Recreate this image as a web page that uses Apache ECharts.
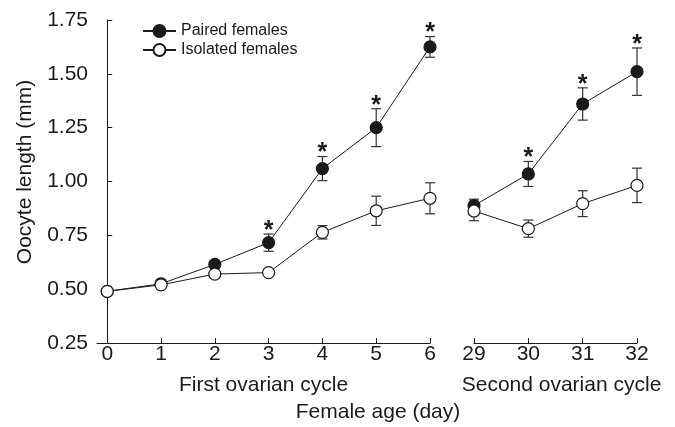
<!DOCTYPE html>
<html><head><meta charset="utf-8">
<script src="https://cdn.jsdelivr.net/npm/echarts@6/dist/echarts.min.js"></script>
<style>html,body{margin:0;padding:0;background:#fff}#c{width:675px;height:427px}</style>
</head><body><div id="c"></div>
<script>
// ---- data ----
const days1 = [0, 1, 2, 3, 4, 5, 6];
const paired1 = [0.49, 0.525, 0.615, 0.716, 1.06, 1.25, 1.625];
const pairedErr1 = [0, 0.01, 0.01, 0.04, 0.056, 0.088, 0.048];
const isolated1 = [0.49, 0.52, 0.57, 0.577, 0.764, 0.864, 0.922];
const isolatedErr1 = [0, 0, 0, 0, 0.031, 0.068, 0.072];
const days2 = [29, 30, 31, 32];
const paired2 = [0.888, 1.035, 1.36, 1.51];
const pairedErr2 = [0.03, 0.058, 0.075, 0.11];
const isolated2 = [0.863, 0.781, 0.897, 0.982];
const isolatedErr2 = [0.045, 0.04, 0.06, 0.08];
const sigDays1 = [3, 4, 5, 6];
const sigDays2 = [30, 31, 32];
const yTicks = [0.25, 0.5, 0.75, 1.0, 1.25, 1.5, 1.75];
const xTicks1 = [0, 1, 2, 3, 4, 5, 6];
const seriesNames = ['Paired females', 'Isolated females'];
const xTitle1 = 'First ovarian cycle';
const xTitle2 = 'Second ovarian cycle';
const xTitleMain = 'Female age (day)';
const yTitle = 'Oocyte length (mm)';

// ---- chart ----
const F = '"Liberation Sans", Arial, Helvetica, sans-serif';
const INK = '#1a1a1a';
const FS = 21;

function pairs(xs, ys) { return xs.map((x, i) => [x, ys[i]]); }
function triples(xs, ys, es) { return xs.map((x, i) => [x, ys[i], es[i]]); }
function sigData(days, xs, ys, es) {
  return days.map(d => { const i = xs.indexOf(d); return [d, ys[i] + es[i]]; });
}

function errRender(params, api) {
  const x = api.value(0), y = api.value(1), e = api.value(2);
  if (!e) return null;
  const top = api.coord([x, y + e]), bot = api.coord([x, y - e]);
  const w = 5;
  const style = { stroke: '#333', lineWidth: 1.2 };
  return {
    type: 'group', children: [
      { type: 'line', shape: { x1: top[0], y1: top[1], x2: bot[0], y2: bot[1] }, style },
      { type: 'line', shape: { x1: top[0] - w, y1: top[1], x2: top[0] + w, y2: top[1] }, style },
      { type: 'line', shape: { x1: bot[0] - w, y1: bot[1], x2: bot[0] + w, y2: bot[1] }, style }
    ]
  };
}
function starRender(params, api) {
  const p = api.coord([api.value(0), api.value(1)]);
  return {
    type: 'text', x: p[0], y: p[1] - 3,
    style: { text: '*', fontSize: 25, fontWeight: 'bold', fontFamily: F, fill: INK, align: 'center', verticalAlign: 'middle' }
  };
}

const axisLineStyle = { color: INK, width: 1 };
const yAxisCommon = {
  type: 'value', min: 0.25, max: 1.75, interval: 0.25,
  splitLine: { show: false }
};

function lineSeries(name, idx, data, filled) {
  return {
    name, type: 'line', xAxisIndex: idx, yAxisIndex: idx, data,
    symbol: 'circle', symbolSize: 12, showSymbol: true, clip: false, z: 3,
    lineStyle: { color: INK, width: 1 },
    itemStyle: { color: filled ? INK : '#fff', borderColor: INK, borderWidth: 1.2 },
    emphasis: { disabled: true }
  };
}
function errSeries(idx, data) {
  return { type: 'custom', xAxisIndex: idx, yAxisIndex: idx, data, renderItem: errRender, z: 2, clip: false, silent: true };
}
function starSeries(idx, data) {
  return { type: 'custom', xAxisIndex: idx, yAxisIndex: idx, data, renderItem: starRender, z: 4, clip: false, silent: true };
}

const option = {
  animation: false,
  backgroundColor: '#fff',
  textStyle: { fontFamily: F },
  legend: {
    data: seriesNames, orient: 'vertical', left: 137, top: 18,
    itemWidth: 33, itemHeight: 15, itemGap: 3,
    textStyle: { fontSize: 16, color: INK, fontFamily: F },
    selectedMode: false
  },
  grid: [
    { left: 97, right: 245, top: 20, bottom: 84, containLabel: false },
    { left: 474, right: 38, top: 20, bottom: 84, containLabel: false }
  ],
  xAxis: [
    {
      type: 'value', gridIndex: 0, min: -0.19, max: 6,
      axisLine: { lineStyle: axisLineStyle },
      axisTick: { inside: true, length: 5, lineStyle: axisLineStyle, customValues: xTicks1 },
      axisLabel: { fontSize: FS, color: INK, fontFamily: F, margin: 1, customValues: xTicks1 },
      splitLine: { show: false },
      name: xTitle1, nameLocation: 'middle', nameGap: 32,
      nameTextStyle: { fontSize: FS, color: INK, fontFamily: F }
    },
    {
      type: 'value', gridIndex: 1, min: 29, max: 32, interval: 1,
      axisLine: { lineStyle: axisLineStyle },
      axisTick: { inside: true, length: 5, lineStyle: axisLineStyle },
      axisLabel: { fontSize: FS, color: INK, fontFamily: F, margin: 1, showMinLabel: true, showMaxLabel: true },
      splitLine: { show: false },
      name: xTitle2, nameLocation: 'middle', nameGap: 32,
      nameTextStyle: { fontSize: FS, color: INK, fontFamily: F, padding: [0, 0, 0, 12] }
    }
  ],
  yAxis: [
    Object.assign({}, yAxisCommon, {
      gridIndex: 0,
      axisLine: { show: true, lineStyle: axisLineStyle },
      axisTick: { show: true, inside: true, length: 5, lineStyle: axisLineStyle },
      axisLabel: { fontSize: FS, color: INK, fontFamily: F, margin: 9, formatter: v => v.toFixed(2) }
    }),
    Object.assign({}, yAxisCommon, {
      gridIndex: 1, show: false
    })
  ],
  graphic: [
    { type: 'text', x: 25, y: 172, rotation: Math.PI / 2,
      style: { text: yTitle, fontSize: FS, fontFamily: F, fill: INK, align: 'center', verticalAlign: 'middle' } },
    { type: 'text', x: 378, y: 412,
      style: { text: xTitleMain, fontSize: FS, fontFamily: F, fill: INK, align: 'center', verticalAlign: 'middle' } }
  ],
  series: [
    errSeries(0, triples(days1, paired1, pairedErr1)),
    errSeries(0, triples(days1, isolated1, isolatedErr1)),
    errSeries(1, triples(days2, paired2, pairedErr2)),
    errSeries(1, triples(days2, isolated2, isolatedErr2)),
    lineSeries(seriesNames[0], 0, pairs(days1, paired1), true),
    lineSeries(seriesNames[0], 1, pairs(days2, paired2), true),
    lineSeries(seriesNames[1], 0, pairs(days1, isolated1), false),
    lineSeries(seriesNames[1], 1, pairs(days2, isolated2), false),
    starSeries(0, sigData(sigDays1, days1, paired1, pairedErr1)),
    starSeries(1, sigData(sigDays2, days2, paired2, pairedErr2))
  ]
};

const chart = echarts.init(document.getElementById('c'), null, { renderer: 'canvas' });
chart.setOption(option);
</script>
</body></html>
